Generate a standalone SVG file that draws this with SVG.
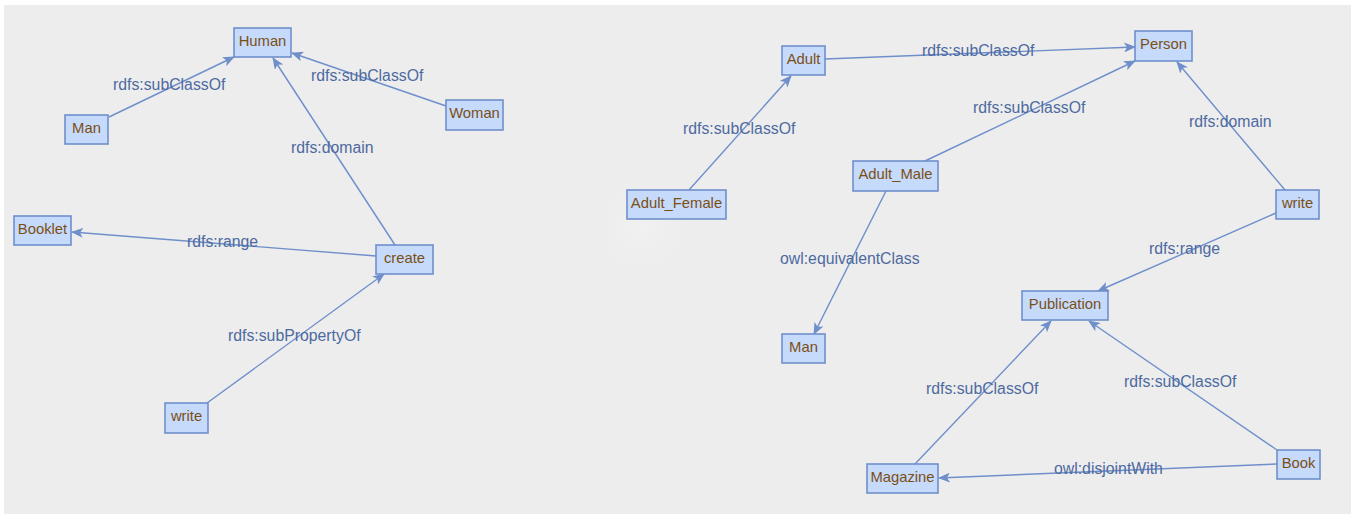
<svg xmlns="http://www.w3.org/2000/svg" width="1357" height="515" viewBox="0 0 1357 515">
  <style>
    .node rect { fill: #c6dafc; stroke: #6f8fcb; stroke-width: 1.6; }
    .node text { font-family: "Liberation Sans", Arial, sans-serif; font-size: 14.8px; fill: #7b4f13; text-anchor: middle; }
    .edge { stroke: #6f8fcb; stroke-width: 1.4; fill: none; marker-end: url(#arrow); }
    .lbl { font-family: "Liberation Sans", Arial, sans-serif; font-size: 15.8px; fill: #4d6aa0; }
  </style>
  <defs>
    <marker id="arrow" viewBox="0 0 12 10" refX="11" refY="5" markerWidth="12" markerHeight="10" markerUnits="userSpaceOnUse" orient="auto">
      <path d="M0,0 L12,5 L0,10 L3,5 z" fill="#6f8fcb"/>
    </marker>
    <radialGradient id="glow" cx="0.3" cy="0.6" r="0.6">
      <stop offset="0" stop-color="#f1f1f1"/>
      <stop offset="1" stop-color="#ededed" stop-opacity="0"/>
    </radialGradient>
  </defs>

  <!-- canvas -->
  <rect x="0" y="0" width="1357" height="515" fill="#ffffff"/>
  <rect x="4" y="5" width="1347" height="509" fill="#ededed"/>
  <rect x="608" y="168" width="110" height="100" fill="url(#glow)"/>

  <!-- connectors -->
  <g id="edges">
    <line class="edge" x1="109" y1="117" x2="234" y2="57"/>
    <line class="edge" x1="446" y1="106" x2="292" y2="53"/>
    <line class="edge" x1="395" y1="245" x2="273" y2="58"/>
    <line class="edge" x1="376" y1="256" x2="72" y2="232"/>
    <line class="edge" x1="207" y1="403" x2="384" y2="274"/>

    <line class="edge" x1="689" y1="190" x2="791" y2="76"/>
    <line class="edge" x1="825" y1="59" x2="1135" y2="47"/>
    <line class="edge" x1="925" y1="161" x2="1135" y2="61"/>
    <line class="edge" x1="1285" y1="190" x2="1177" y2="62"/>
    <line class="edge" x1="1276" y1="213" x2="1098" y2="291"/>
    <line class="edge" x1="886" y1="191" x2="814" y2="334"/>
    <line class="edge" x1="915" y1="464" x2="1051" y2="321"/>
    <line class="edge" x1="1277" y1="450" x2="1089" y2="321"/>
    <line class="edge" x1="1277" y1="464" x2="939" y2="478"/>

    <text class="lbl" x="113" y="90">rdfs:subClassOf</text>
    <text class="lbl" x="311" y="81">rdfs:subClassOf</text>
    <text class="lbl" x="291" y="153">rdfs:domain</text>
    <text class="lbl" x="187" y="247">rdfs:range</text>
    <text class="lbl" x="228" y="341">rdfs:subPropertyOf</text>

    <text class="lbl" x="683" y="134">rdfs:subClassOf</text>
    <text class="lbl" x="922" y="56">rdfs:subClassOf</text>
    <text class="lbl" x="973" y="113">rdfs:subClassOf</text>
    <text class="lbl" x="1189" y="127">rdfs:domain</text>
    <text class="lbl" x="1149" y="254">rdfs:range</text>
    <text class="lbl" x="780" y="264">owl:equivalentClass</text>
    <text class="lbl" x="926" y="394">rdfs:subClassOf</text>
    <text class="lbl" x="1124" y="387">rdfs:subClassOf</text>
    <text class="lbl" x="1054" y="474">owl:disjointWith</text>
  </g>

  <!-- left graph -->
  <g id="human" class="node"><rect x="234" y="28" width="57" height="29"/><text x="262.5" y="46">Human</text></g>
  <g id="man-left" class="node"><rect x="65" y="115" width="43" height="29"/><text x="86.5" y="133">Man</text></g>
  <g id="woman" class="node"><rect x="446" y="100" width="57" height="30"/><text x="474.5" y="118">Woman</text></g>
  <g id="booklet" class="node"><rect x="14" y="216" width="57" height="29"/><text x="42.5" y="234">Booklet</text></g>
  <g id="create" class="node"><rect x="376" y="245" width="57" height="29"/><text x="404.5" y="263">create</text></g>
  <g id="write-left" class="node"><rect x="165" y="403" width="43" height="30"/><text x="186.5" y="421">write</text></g>

  <!-- right graph -->
  <g id="adult" class="node"><rect x="782" y="46" width="43" height="29"/><text x="803.5" y="64">Adult</text></g>
  <g id="adult-female" class="node"><rect x="627" y="190" width="99" height="29"/><text x="676.5" y="208">Adult_Female</text></g>
  <g id="adult-male" class="node"><rect x="853" y="161" width="85" height="30"/><text x="895.5" y="179">Adult_Male</text></g>
  <g id="person" class="node"><rect x="1135" y="31" width="57" height="30"/><text x="1163.5" y="49">Person</text></g>
  <g id="write-right" class="node"><rect x="1276" y="190" width="43" height="29"/><text x="1297.5" y="208">write</text></g>
  <g id="man-right" class="node"><rect x="782" y="334" width="43" height="29"/><text x="803.5" y="352">Man</text></g>
  <g id="publication" class="node"><rect x="1022" y="291" width="86" height="29"/><text x="1065" y="309">Publication</text></g>
  <g id="magazine" class="node"><rect x="867" y="464" width="71" height="29"/><text x="902.5" y="482">Magazine</text></g>
  <g id="book" class="node"><rect x="1277" y="450" width="43" height="29"/><text x="1298.5" y="468">Book</text></g>
</svg>
